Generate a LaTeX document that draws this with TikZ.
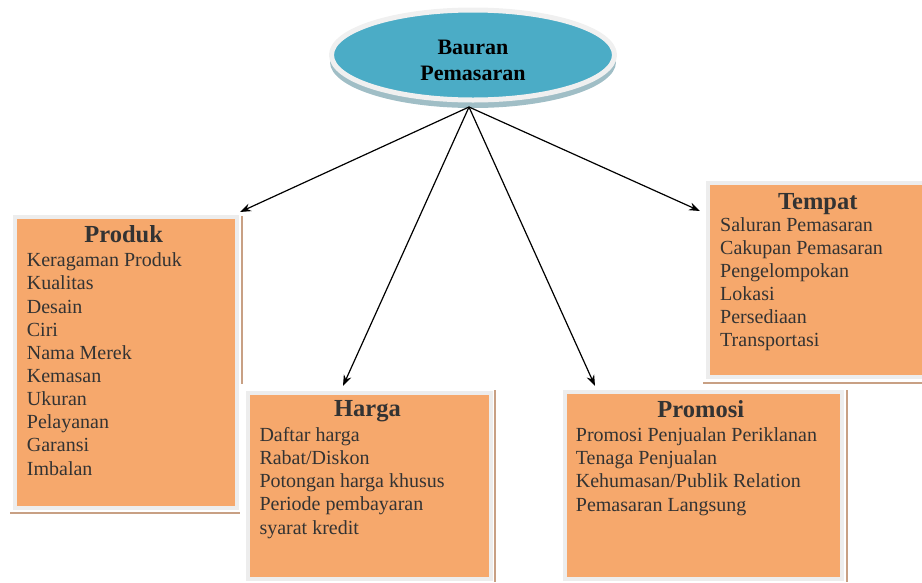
\documentclass[tikz,border=0pt]{standalone}
\usepackage{fontspec}
\setmainfont{Liberation Serif}
\usetikzlibrary{arrows.meta,shapes.geometric}
\definecolor{boxfill}{RGB}{246,168,108}
\definecolor{ellfill}{RGB}{75,172,198}
\definecolor{ellshad}{RGB}{160,190,198}
\definecolor{txt}{RGB}{51,51,51}
\definecolor{shadc}{RGB}{200,160,132}
\begin{document}
\begin{tikzpicture}[x=1pt,y=-1pt,
  box/.style={fill=boxfill, draw=black!7, line width=4pt, inner sep=0pt, anchor=north west},
  ttl/.style={font=\fontsize{24.5}{28}\selectfont\bfseries, text=txt, anchor=base, inner sep=0pt},
  item/.style={font=\fontsize{20}{23}\selectfont, text=txt, anchor=base west, inner sep=0pt},
  etxt/.style={font=\fontsize{22}{26}\selectfont\bfseries, text=black, anchor=base, inner sep=0pt},
  shad/.style={draw=shadc, line width=1.6pt},
  arr/.style={draw=black, line width=1.2pt, -{Stealth[length=11pt,width=8pt]}}]
\useasboundingbox (0,0) rectangle (922,582);

% shadow lines
\draw[shad] (242,216) -- (242,384);
\draw[shad] (10,513) -- (240,513);
\draw[shad] (495,390) -- (495,582);
\draw[shad] (847,390) -- (847,582);
\draw[shad] (703,383) -- (922,383);

% boxes
\node[box, minimum width=222, minimum height=291] (produk) at (13,215) {};
\node[box, minimum width=243, minimum height=186.3] (harga) at (246,390.7) {};
\node[box, minimum width=276.7, minimum height=187] (promosi) at (563,390) {};
\node[box, minimum width=216, minimum height=194] (tempat) at (706,181) {};

% ellipse
\fill[ellshad] (473,62) ellipse [x radius=143, y radius=46];
\node[ellipse, fill=ellfill, draw=black!6, line width=5pt, minimum width=283, minimum height=90, inner sep=0pt] (bauran) at (473,55) {};
\node[etxt] (b1) at (473,54.3) {Bauran};
\node[etxt] (b2) at (473,80) {Pemasaran};

% titles
\node[ttl] (tprod) at (123.7,242.7) {Produk};
\node[ttl] (tharga) at (367.5,416.7) {Harga};
\node[ttl] (tprom) at (700.8,417.3) {Promosi};
\node[ttl] (ttemp) at (817.8,209) {Tempat};

% items
\foreach \t [count=\i] in {Keragaman Produk, Kualitas, Desain, Ciri, Nama Merek, Kemasan, Ukuran, Pelayanan, Garansi, Imbalan}
  \node[item] (prod\i) at (26.7,{266.7+23.15*(\i-1)}) {\t};
\foreach \t [count=\i] in {Daftar harga, Rabat/Diskon, Potongan harga khusus, Periode pembayaran, syarat kredit}
  \node[item] (harga\i) at (259.3,{441+23.3*(\i-1)}) {\t};
\foreach \t [count=\i] in {Promosi Penjualan Periklanan, Tenaga Penjualan, Kehumasan/Publik Relation, Pemasaran Langsung}
  \node[item] (prom\i) at (575.7,{441+23.4*(\i-1)}) {\t};
\foreach \t [count=\i] in {Saluran Pemasaran, Cakupan Pemasaran, Pengelompokan, Lokasi, Persediaan, Transportasi}
  \node[item] (temp\i) at (720,{231.7+23*(\i-1)}) {\t};

% connectors
\coordinate (src) at (469,107);
\coordinate (tipprod) at (240,212);
\coordinate (tipharga) at (343,386);
\coordinate (tipprom) at (595,386);
\coordinate (tiptemp) at (700,211);
\draw[arr] (src) -- (tipprod);
\draw[arr] (src) -- (tipharga);
\draw[arr] (src) -- (tipprom);
\draw[arr] (src) -- (tiptemp);
\end{tikzpicture}
\end{document}
